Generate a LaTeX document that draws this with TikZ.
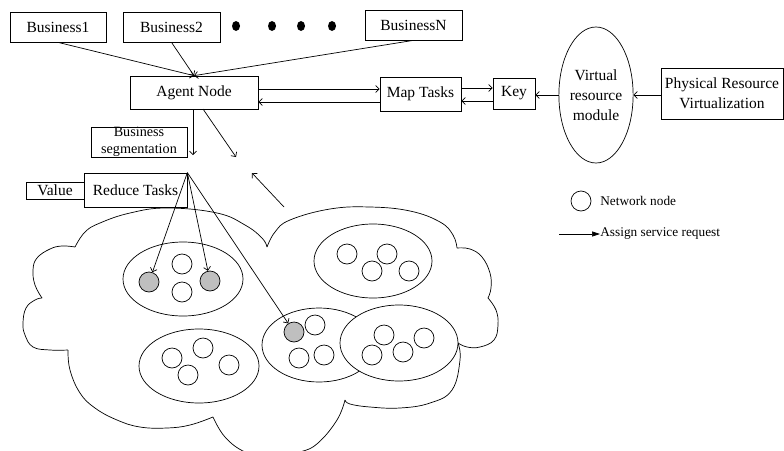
\documentclass[tikz,border=0pt]{standalone}
\usepackage{fontspec}
\setmainfont{Liberation Serif}
\usetikzlibrary{arrows.meta,shapes.geometric}
\begin{document}
\begin{tikzpicture}[x=1pt,y=-1pt,
  line width=0.7pt,
  box/.style={draw,inner sep=0pt,align=center,font=\fontsize{15.5}{20}\selectfont},
  arr/.style={-{Straight Barb[length=3.5pt,width=7pt]}},
  netnode/.style={circle,draw,minimum size=20pt,inner sep=0pt,fill=white},
  busy/.style={netnode,fill=black!25},
  cluster/.style={draw,fill=white}
]
\clip (0,0) rectangle (784,450);
% top row
\node[box,minimum width=96pt,minimum height=30pt] (b1) at (58,27) {Business1};
\node[box,minimum width=97pt,minimum height=30pt] (b2) at (171.5,27) {Business2};
\node[box,minimum width=97pt,minimum height=30pt] (bN) at (413.5,25) {BusinessN};
\foreach \x in {236,272,301,332}
  \fill (\x,26) ellipse [x radius=4pt, y radius=5pt];
% main row
\node[box,minimum width=128pt,minimum height=33pt] (agent) at (194,92.5) {Agent Node};
\node[box,minimum width=81pt,minimum height=34pt] (map) at (420.5,94) {Map Tasks};
\node[box,minimum width=42pt,minimum height=31pt] (key) at (514,93.5) {Key};
\node[box,ellipse,minimum width=64pt,minimum height=136pt] (vrm) at (596,95) {Virtual\\resource\\module};
\node[box,minimum width=122pt,minimum height=51pt] (phys) at (722,93.5) {Physical Resource\\Virtualization};
\node[box,minimum width=96pt,minimum height=30pt,font=\fontsize{14.2}{16.5}\selectfont] (seg) at (139,142) {Business\\segmentation};
\node[box,minimum width=103pt,minimum height=34pt] (reduce) at (135.5,190) {Reduce Tasks};
\node[box,minimum width=58pt,minimum height=17pt] (value) at (55,190.5) {Value};
% connectors top
\draw[arr] (b1.south) -- (agent.north);
\draw[arr] (b2.south) -- (agent.north);
\draw[arr] (bN.south) -- (agent.north);
\draw[arr] (agent.east |- 0,89) -- (map.west |- 0,89);
\draw[arr] (map.west |- 0,102) -- (agent.east |- 0,102);
\draw[arr] (map.east |- 0,88) -- (key.west |- 0,88);
\draw[arr] (key.west |- 0,101) -- (map.east |- 0,101);
\draw[arr] (vrm.west) -- (key.east |- vrm.west);
\draw[arr] (phys.west |- vrm.east) -- (vrm.east);
\coordinate (dn) at (193,155);
\draw[arr] (agent.south -| dn) -- (dn);
\coordinate (dgs) at (203,109);
\coordinate (dge) at (236,157);
\draw[arr] (dgs) -- (dge);
\coordinate (ups) at (284,207);
\coordinate (upe) at (252,173);
\draw[arr] (ups) -- (upe);
% cloud
\draw plot[smooth,tension=0.7] coordinates {(75,247) (85,232) (100,223) (130,213) (167,208) (217,213) (245,225) (262,238) (267,247)};
\draw plot[smooth,tension=0.7] coordinates {(267,247) (275,232) (290,220) (330,209) (370,207) (410,211) (440,222) (453,235) (457,248)};
\draw plot[smooth,tension=0.7] coordinates {(457,248) (470,249) (482,257) (490,273) (491,288) (488,298)};
\draw plot[smooth,tension=0.7] coordinates {(488,298) (496,310) (498,325) (494,340) (480,347) (467,347) (458,343)};
\draw plot[smooth,tension=0.7] coordinates {(458,343) (460,360) (452,390) (430,403) (400,408) (370,407) (350,404) (345,400)};
\draw plot[smooth,tension=0.7] coordinates {(345,400) (337,420) (318,443) (300,452) (270,458) (245,452) (225,437) (213,417)};
\draw plot[smooth,tension=0.7] coordinates {(213,417) (190,425) (167,428) (140,427) (117,420) (95,408) (80,393) (70,370) (68,350)};
\draw plot[smooth,tension=0.7] coordinates {(68,350) (50,350) (33,347) (25,335) (23,323) (26,308) (35,300) (42,298)};
\draw plot[smooth,tension=0.7] coordinates {(42,298) (35,285) (33,270) (37,258) (50,249) (62,246) (75,247)};
% clusters
\draw[cluster] (183,279) ellipse [x radius=60pt, y radius=37pt];
\node[busy] (g1) at (149,282) {};
\node[netnode] (a2) at (182,264) {};
\node[netnode] (a3) at (182,292) {};
\node[busy] (g2) at (210,281) {};
\draw[cluster] (199,366) ellipse [x radius=60pt, y radius=37pt];
\node[netnode] (b1n) at (172,358) {};
\node[netnode] (b2n) at (203,348) {};
\node[netnode] (b3n) at (188,375) {};
\node[netnode] (b4n) at (229,365) {};
\draw[cluster] (373,261) ellipse [x radius=59pt, y radius=37pt];
\node[netnode] (c1) at (347,254) {};
\node[netnode] (c2) at (387,254) {};
\node[netnode] (c3) at (372,271) {};
\node[netnode] (c4) at (409,271) {};
\draw[cluster] (319,345) ellipse [x radius=57pt, y radius=37pt];
\node[busy] (g3) at (294,332) {};
\node[netnode] (e2) at (315,325) {};
\node[netnode] (e3) at (299,358) {};
\node[netnode] (e4) at (324,355) {};
\draw[cluster] (399,343) ellipse [x radius=59pt, y radius=38pt];
\node[netnode] (f1) at (384,335) {};
\node[netnode] (f2) at (424,338) {};
\node[netnode] (f3) at (372,355) {};
\node[netnode] (f4) at (403,352) {};
% reduce to nodes
\draw[arr] (reduce.north east) -- (g1);
\draw[arr] (reduce.north east) -- (g2);
\draw[arr] (reduce.north east) -- (g3);
% legend
\node[netnode] (lg) at (581,201) {};
\node[anchor=west,inner sep=0pt,font=\fontsize{13.3}{15}\selectfont] (lgt) at (600,201) {Network node};
\node[anchor=west,inner sep=0pt,font=\fontsize{13.3}{15}\selectfont] (lat) at (600,234) {Assign service request};
\coordinate (las) at (559,234);
\draw[-{Triangle[length=8pt,width=5pt]}] (las) -- (lat.west);
\end{tikzpicture}
\end{document}
